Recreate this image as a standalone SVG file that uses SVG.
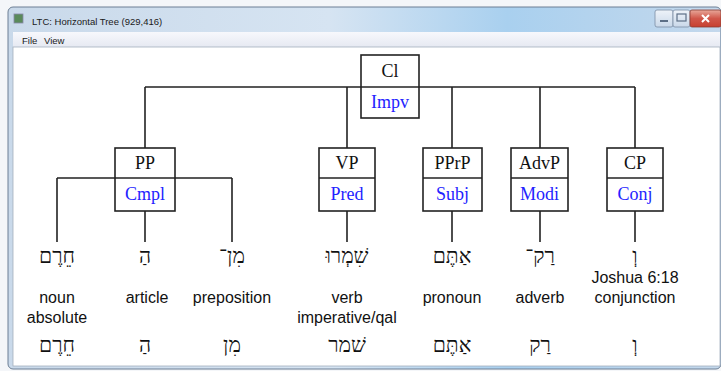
<svg xmlns="http://www.w3.org/2000/svg" width="721" height="371" viewBox="0 0 721 371">
<defs>
<linearGradient id="frame" x1="0" y1="0" x2="1" y2="0">
<stop offset="0" stop-color="#c9d9ea"/>
<stop offset="0.45" stop-color="#d6e4f2"/>
<stop offset="0.7" stop-color="#a9d0ef"/>
<stop offset="1" stop-color="#c4d8ec"/>
</linearGradient>
<linearGradient id="menu" x1="0" y1="0" x2="0" y2="1">
<stop offset="0" stop-color="#f7f8fc"/>
<stop offset="1" stop-color="#e6e9f2"/>
</linearGradient>
<linearGradient id="close" x1="0" y1="0" x2="0" y2="1">
<stop offset="0" stop-color="#e8a89a"/>
<stop offset="0.5" stop-color="#d0574a"/>
<stop offset="1" stop-color="#c7402f"/>
</linearGradient>
<linearGradient id="btn" x1="0" y1="0" x2="0" y2="1">
<stop offset="0" stop-color="#eef3f9"/>
<stop offset="1" stop-color="#c9d8e9"/>
</linearGradient>
</defs>
<style>
.box{fill:#fff;stroke:#222;stroke-width:1.6}
.ln{fill:none;stroke:#222;stroke-width:1.6}
.cat{font-family:"Liberation Serif","Times New Roman",serif;font-size:18px;fill:#111;text-anchor:middle}
.fn{font-family:"Liberation Serif","Times New Roman",serif;font-size:18px;fill:#2323ff;text-anchor:middle}
.heb{font-family:"Liberation Serif","DejaVu Serif","DejaVu Sans",serif;font-size:21px;fill:#111;text-anchor:middle}
.lbl{font-family:"Liberation Sans",Arial,sans-serif;font-size:16px;fill:#111;text-anchor:middle}
.ui{font-family:"Liberation Sans",Arial,sans-serif;font-size:9.5px;fill:#1a1a1a}
</style>
<rect width="721" height="371" fill="#f4f6f9"/>
<!-- window frame -->
<rect x="8" y="7" width="713" height="362" rx="5" fill="url(#frame)" stroke="#6d7f94" stroke-width="1"/>
<rect x="14" y="14" width="9" height="9" fill="#5a8a5a" stroke="#88a" stroke-width="0.8"/>
<text class="ui" x="32" y="25">LTC: Horizontal Tree (929,416)</text>
<g id="captions">
<rect x="655" y="10" width="18" height="17" rx="2" fill="url(#btn)" stroke="#7b8da3" stroke-width="0.8"/>
<rect x="660" y="20" width="8" height="2" fill="#5d6f86"/>
<rect x="673" y="10" width="17" height="17" rx="2" fill="url(#btn)" stroke="#7b8da3" stroke-width="0.8"/>
<rect x="677" y="14" width="9" height="7" fill="none" stroke="#5d6f86" stroke-width="1.2"/>
<rect x="690" y="10" width="31" height="17" rx="2" fill="url(#close)" stroke="#8a3a30" stroke-width="0.8"/>
<path d="M702 15 L709 22 M709 15 L702 22" stroke="#fff" stroke-width="2"/>
</g>
<rect x="13" y="32" width="707" height="15" fill="url(#menu)"/>
<text class="ui" x="22" y="44">File</text>
<text class="ui" x="44" y="44">View</text>
<rect x="13" y="47" width="707" height="319" fill="#fff" stroke="#a4afbd" stroke-width="0.8"/>

<g id="connectors">
<path class="ln" d="M145 87 H635 M145 87 V148 M347 87 V148 M452 87 V148 M540 87 V148 M635 87 V148"/>
<path class="ln" d="M57 178 H232 M57 178 V242 M145 211 V242 M232 178 V242"/>
<path class="ln" d="M347 211 V242 M452 211 V242 M540 211 V242 M635 211 V242"/>
</g>

<g id="node-cl">
<rect class="box" x="361" y="55" width="58" height="63"/>
<line class="ln" x1="361" y1="87" x2="419" y2="87"/>
<text class="cat" x="390" y="77">Cl</text>
<text class="fn" x="390" y="108">Impv</text>
</g>
<g id="node-pp">
<rect class="box" x="115" y="148" width="60" height="63"/>
<line class="ln" x1="115" y1="178" x2="175" y2="178"/>
<text class="cat" x="145" y="169">PP</text>
<text class="fn" x="145" y="200">Cmpl</text>
</g>
<g id="node-vp">
<rect class="box" x="319" y="148" width="56" height="63"/>
<line class="ln" x1="319" y1="178" x2="375" y2="178"/>
<text class="cat" x="347" y="169">VP</text>
<text class="fn" x="347" y="200">Pred</text>
</g>
<g id="node-pprp">
<rect class="box" x="423" y="148" width="59" height="63"/>
<line class="ln" x1="423" y1="178" x2="482" y2="178"/>
<text class="cat" x="452.5" y="169">PPrP</text>
<text class="fn" x="452.5" y="200">Subj</text>
</g>
<g id="node-advp">
<rect class="box" x="511" y="148" width="57" height="63"/>
<line class="ln" x1="511" y1="178" x2="568" y2="178"/>
<text class="cat" x="539.5" y="169">AdvP</text>
<text class="fn" x="539.5" y="200">Modi</text>
</g>
<g id="node-cp">
<rect class="box" x="607" y="148" width="56" height="63"/>
<line class="ln" x1="607" y1="178" x2="663" y2="178"/>
<text class="cat" x="635" y="169">CP</text>
<text class="fn" x="635" y="200">Conj</text>
</g>

<g id="leaf-1">
<text class="heb" x="57" y="263">חֵרֶם</text>
<text class="lbl" x="57" y="303">noun</text>
<text class="lbl" x="57" y="323">absolute</text>
<text class="heb" x="57" y="352">חֵרֶם</text>
</g>
<g id="leaf-2">
<text class="heb" x="145" y="263">הַ</text>
<text class="lbl" x="147" y="303">article</text>
<text class="heb" x="145" y="352">הַ</text>
</g>
<g id="leaf-3">
<text class="heb" x="232" y="263">מִן־</text>
<text class="lbl" x="232" y="303">preposition</text>
<text class="heb" x="232" y="352">מִן</text>
</g>
<g id="leaf-4">
<text class="heb" x="347" y="263">שִׁמְרוּ</text>
<text class="lbl" x="347" y="303">verb</text>
<text class="lbl" x="347" y="323">imperative/qal</text>
<text class="heb" x="347" y="352">שׁמר</text>
</g>
<g id="leaf-5">
<text class="heb" x="452" y="263">אַתֶּם</text>
<text class="lbl" x="452" y="303">pronoun</text>
<text class="heb" x="452" y="352">אַתֶּם</text>
</g>
<g id="leaf-6">
<text class="heb" x="540" y="263">רַק־</text>
<text class="lbl" x="540" y="303">adverb</text>
<text class="heb" x="540" y="352">רַק</text>
</g>
<g id="leaf-7">
<text class="heb" x="635" y="263">וְ</text>
<text class="lbl" x="635" y="283">Joshua 6:18</text>
<text class="lbl" x="635" y="303">conjunction</text>
<text class="heb" x="635" y="352">וְ</text>
</g>
</svg>
